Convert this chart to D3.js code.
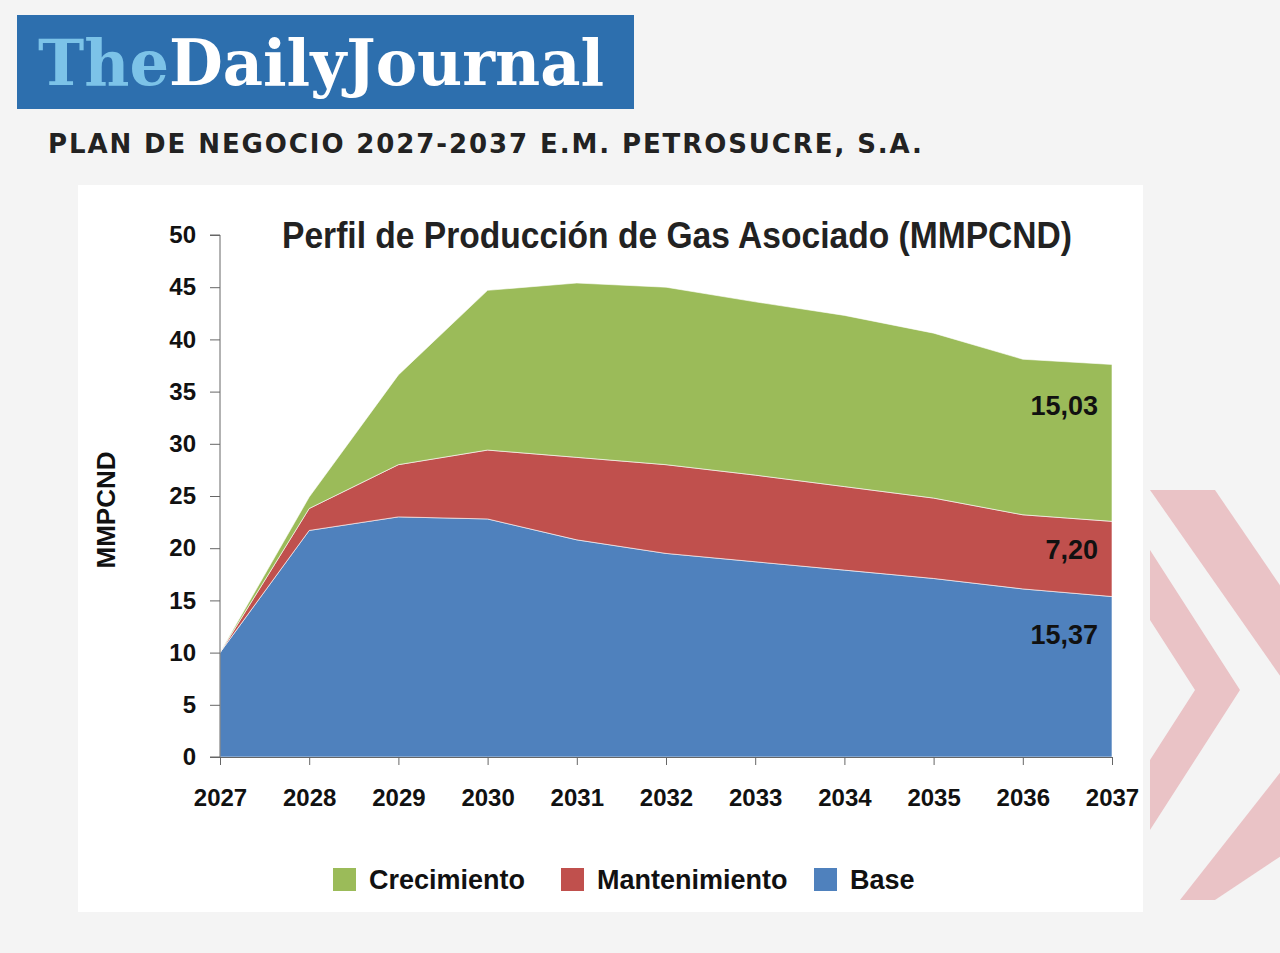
<!DOCTYPE html>
<html>
<head>
<script src="https://cdnjs.cloudflare.com/ajax/libs/d3/7.8.5/d3.min.js"></script>
<style>
  body { margin: 0; background: #f4f4f4; }
</style>
</head>
<body>
<div id="chart"></div>
<script>
const years = [2027, 2028, 2029, 2030, 2031, 2032, 2033, 2034, 2035, 2036, 2037];
const base = [10.0, 21.7, 23.0, 22.8, 20.8, 19.5, 18.7, 17.9, 17.1, 16.1, 15.37];
const mantenimiento = [0.0, 2.1, 5.0, 6.6, 7.9, 8.5, 8.3, 8.0, 7.7, 7.1, 7.20];
const crecimiento = [0.0, 1.1, 8.6, 15.3, 16.7, 17.0, 16.6, 16.4, 15.8, 14.9, 15.03];
const yTicks = [0, 5, 10, 15, 20, 25, 30, 35, 40, 45, 50];
const seriesNames = ['Base', 'Mantenimiento', 'Crecimiento'];
const colors = { Base: '#4f81bd', Mantenimiento: '#c0504d', Crecimiento: '#9bbb59' };
const endLabels = ['15,37', '7,20', '15,03'];
const endLabelY = [635, 550, 406];

const W = 1280, H = 953;
const svg = d3.select('#chart').append('svg').attr('width', W).attr('height', H);

// background decoration: pink X mark on right
const deco = svg.append('g').attr('fill', '#eac3c6');
deco.append('path').attr('d', 'M1150,490 L1215,490 L1290,600 L1290,690 Z');
deco.append('path').attr('d', 'M1150,550 L1240,690 L1150,830 L1150,760 L1195,690 L1150,620 Z');
deco.append('path').attr('d', 'M1290,760 L1290,850 L1215,900 L1180,900 Z');

// header
svg.append('rect').attr('x', 17).attr('y', 15).attr('width', 617).attr('height', 94).attr('fill', '#2d6fae');
const logo = svg.append('text').attr('x', 38).attr('y', 85)
  .attr('font-family', 'DejaVu Serif').attr('font-weight', 'bold').attr('font-size', 64)
  .attr('textLength', 566).attr('lengthAdjust', 'spacingAndGlyphs');
logo.append('tspan').attr('fill', '#7cc3e8').text('The');
logo.append('tspan').attr('fill', '#fff').text('DailyJournal');
svg.append('text').attr('x', 48).attr('y', 153)
  .attr('font-family', 'DejaVu Sans').attr('font-weight', 'bold').attr('font-size', 26)
  .attr('textLength', 874).attr('fill', '#222').text('PLAN DE NEGOCIO 2027-2037 E.M. PETROSUCRE, S.A.');

// panel
svg.append('rect').attr('x', 78).attr('y', 185).attr('width', 1065).attr('height', 727).attr('fill', '#fff');

const x = d3.scaleLinear().domain([2027, 2037]).range([220, 1112]);
const y = d3.scaleLinear().domain([0, 50]).range([757, 235]);

const table = years.map((yr, i) => ({
  year: yr, Base: base[i], Mantenimiento: mantenimiento[i], Crecimiento: crecimiento[i]
}));
const stacked = d3.stack().keys(seriesNames)(table);
const area = d3.area().x(d => x(d.data.year)).y0(d => y(d[0])).y1(d => y(d[1]));

svg.append('g').selectAll('path').data(stacked).join('path')
  .attr('d', area).attr('fill', d => colors[d.key]).attr('stroke', '#fff').attr('stroke-width', 0.6);

const font = 'Liberation Sans Narrow, Liberation Sans, Arial';
const yAxis = svg.append('g').attr('transform', 'translate(220,0)')
  .call(d3.axisLeft(y).tickValues(yTicks).tickSize(10).tickPadding(14));
const xAxis = svg.append('g').attr('transform', 'translate(0,757)')
  .call(d3.axisBottom(x).tickValues(years).tickFormat(d3.format('d')).tickSize(8).tickPadding(24));
[yAxis, xAxis].forEach(a => {
  a.selectAll('line,path').attr('stroke', '#666');
  a.selectAll('text').attr('font-family', font).attr('font-weight', 'bold')
    .attr('font-size', 24).attr('fill', '#111');
});
yAxis.select('.domain').attr('d', 'M-10,757H0V235H-10');

svg.append('text').attr('transform', 'translate(115,510) rotate(-90)').attr('text-anchor', 'middle')
  .attr('font-family', font).attr('font-weight', 'bold').attr('font-size', 26).attr('fill', '#111')
  .text('MMPCND');

svg.append('text').attr('x', 282).attr('y', 248)
  .attr('font-family', font).attr('font-weight', 'bold').attr('font-size', 36).attr('fill', '#222')
  .attr('textLength', 790).attr('lengthAdjust', 'spacingAndGlyphs')
  .text('Perfil de Producción de Gas Asociado (MMPCND)');

// end labels
stacked.forEach((s, i) => {
  svg.append('text').attr('x', 1098).attr('y', endLabelY[i] + 9)
    .attr('text-anchor', 'end').attr('font-family', font).attr('font-weight', 'bold')
    .attr('font-size', 27).attr('fill', '#111').text(endLabels[i]);
});

// legend
const legendItems = [['Crecimiento', 333], ['Mantenimiento', 561], ['Base', 814]];
legendItems.forEach(([name, lx]) => {
  svg.append('rect').attr('x', lx).attr('y', 868).attr('width', 23).attr('height', 23).attr('fill', colors[name]);
  svg.append('text').attr('x', lx + 36).attr('y', 889).attr('font-family', font).attr('font-weight', 'bold')
    .attr('font-size', 27).attr('fill', '#111').text(name);
});
</script>
</body>
</html>
